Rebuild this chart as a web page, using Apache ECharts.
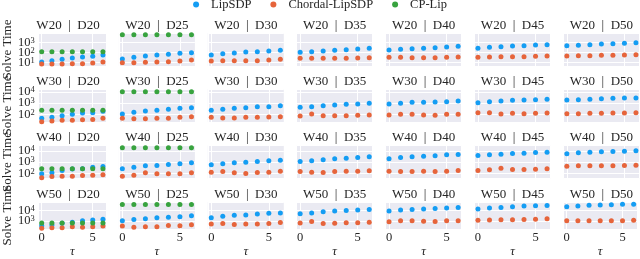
<!DOCTYPE html>
<html><head><meta charset="utf-8">
<script src="https://cdn.jsdelivr.net/npm/echarts@6/dist/echarts.min.js"></script>
<style>html,body{margin:0;padding:0;background:#fff}#c{width:640px;height:259px}</style>
</head><body><div id="c"></div>
<script>
// ---------- data ----------
const widths = ['W20', 'W30', 'W40', 'W50'];
const depths = ['D20', 'D25', 'D30', 'D35', 'D40', 'D45', 'D50'];
const tau = [0, 1, 2, 3, 4, 5, 6];
const methods = ['LipSDP', 'Chordal-LipSDP', 'CP-Lip'];
const xTickLabels = ['0', '5'];
const yTickLabelsByRow = [[1, 2, 3], [2, 3, 4], [2, 3, 4], [3, 4]];

// LipSDP solve times, one list of 7 (tau=0..6) per depth
const lipsdpW20 = [
  [11.7, 15.8, 21.9, 29.5, 37, 43.6, 59],
  [23, 35, 47, 59, 69, 87, 100],
  [59, 79, 93, 117, 126, 148, 174],
  [110, 126, 148, 174, 200, 234, 275],
  [186, 219, 251, 275, 316, 372, 437],
  [275, 347, 398, 468, 501, 589, 631],
  [501, 550, 631, 741, 794, 871, 1000]
];
const lipsdpW30 = [
  [44, 54, 74, 100, 132, 138, 186],
  [107, 151, 200, 229, 282, 347, 389],
  [229, 282, 347, 389, 479, 479, 589],
  [427, 479, 589, 676, 794, 832, 977],
  [832, 977, 1200, 1200, 1260, 1350, 1550],
  [1100, 1350, 1550, 1820, 1900, 2040, 2240],
  [1900, 2040, 2240, 2510, 2690, 2880, 2880]
];
const lipsdpW40 = [
  [89, 110, 174, 240, 251, 355, 398],
  [251, 355, 468, 501, 617, 708, 871],
  [575, 708, 871, 1000, 1150, 1320, 1480],
  [1150, 1320, 1620, 2000, 2240, 2630, 3020],
  [2000, 2630, 3020, 3390, 3720, 4570, 4900],
  [3980, 4570, 5130, 6030, 6310, 7410, 7760],
  [5620, 6920, 7760, 8510, 9120, 9550, 10470]
];
const lipsdpW50 = [
  [339, 407, 575, 741, 1000, 1200, 1440],
  [1000, 1350, 1620, 1950, 2190, 2450, 3160],
  [2040, 2820, 3390, 3720, 4470, 5370, 5750],
  [4900, 5750, 7410, 8710, 10000, 11200, 12600],
  [8710, 11200, 12600, 13500, 15100, 17400, 19100],
  [13500, 17400, 19100, 22900, 26300, 27500, 29500],
  [22900, 26300, 31600, 33100, 35500, 39800, 39800]
];

// Chordal-LipSDP solve times
const chordalW20 = [
  [7.4, 7.4, 7.4, 7.9, 7.9, 9.3, 11.7],
  [10, 10, 11, 11.7, 12.6, 14.8, 18.6],
  [14.8, 15.8, 15.8, 15.8, 15.8, 18.6, 21.9],
  [27.5, 27.5, 27.5, 27.5, 27.5, 29.5, 31.6],
  [35, 35, 32, 32, 32, 35, 37],
  [35, 37, 40, 40, 40, 44, 47],
  [47, 50, 50, 55, 55, 59, 63]
];
const chordalW30 = [
  [22, 25, 29, 29, 33, 35, 44],
  [44, 40, 40, 44, 44, 54, 60],
  [54, 47, 47, 54, 54, 57, 60],
  [71, 107, 74, 74, 74, 81, 87],
  [87, 100, 100, 87, 81, 100, 100],
  [138, 138, 107, 123, 112, 123, 132],
  [112, 112, 123, 123, 132, 132, 138]
];
const chordalW40 = [
  [40, 51, 55, 55, 63, 68, 74],
  [55, 68, 110, 89, 89, 89, 110],
  [126, 145, 110, 95, 117, 126, 155],
  [145, 126, 117, 145, 155, 155, 166],
  [155, 145, 145, 155, 145, 155, 178],
  [178, 204, 288, 219, 219, 234, 251],
  [437, 468, 468, 468, 468, 501, 537]
];
const chordalW50 = [
  [195, 224, 224, 269, 245, 269, 316],
  [316, 245, 269, 269, 355, 339, 427],
  [513, 550, 457, 513, 513, 550, 692],
  [617, 871, 550, 575, 661, 661, 741],
  [832, 1000, 1000, 933, 871, 1000, 1050],
  [1150, 1200, 1260, 1260, 1350, 1440, 1620],
  [1000, 1050, 1050, 1050, 1050, 1050, 1150]
];

// CP-Lip solve times (only D20 and D25)
const cplipW20 = [
  [125, 125, 125, 125, 125, 125, 125],
  [6300, 6300, 6300, 6300, 6300, 6300, 6300]
];
const cplipW30 = [
  [230, 230, 230, 230, 230, 230, 230],
  [10700, 10700, 10700, 10700, 10700, 10700, 10700]
];
const cplipW40 = [
  [251, 251, 251, 251, 251, 251, 251],
  [19500, 19500, 19500, 19500, 19500, 19500, 19500]
];
const cplipW50 = [
  [620, 620, 620, 620, 620, 620, 620],
  [37000, 37000, 37000, 37000, 37000, 37000, 37000]
];

// shared y-range per row (log axis)
const yMinByRow = [4.7, 20.4, 34, 162];
const yMaxByRow = [9300, 18600, 31000, 64600];
const xMin = -0.3, xMax = 6.3;

// ---------- layout / style ----------
const lipsdpRows = [lipsdpW20, lipsdpW30, lipsdpW40, lipsdpW50];
const chordalRows = [chordalW20, chordalW30, chordalW40, chordalW50];
const cplipRows = [cplipW20, cplipW30, cplipW40, cplipW50];
const colors = ['#149df3', '#e6643b', '#38a33f'];
const FONT = '"Liberation Serif", "DejaVu Serif", serif';
const TXT = '#262626';
const colLeft0 = 30, colStep = 88.9, panelW = 76;
const rowTops = [33, 89, 145.5, 202], panelH = 33;

const grids = [], xAxes = [], yAxes = [], series = [], titles = [];
for (let r = 0; r < widths.length; r++) {
  for (let c = 0; c < depths.length; c++) {
    const idx = r * depths.length + c;
    const left = colLeft0 + c * colStep;
    const top = rowTops[r];
    grids.push({ left: left, top: top, width: panelW, height: panelH, show: true,
      backgroundColor: '#eaeaf2', borderWidth: 0, containLabel: false });
    titles.push({ text: widths[r] + '  |  ' + depths[c], left: left + panelW / 2, top: top - 14,
      textAlign: 'center', padding: 0,
      textStyle: { fontSize: 13, fontWeight: 'normal', fontFamily: FONT, color: TXT } });
    const bottomRow = r === widths.length - 1;
    xAxes.push({ type: 'value', gridIndex: idx, min: xMin, max: xMax, splitNumber: 1,
      axisLine: { show: false }, axisTick: { show: false },
      splitLine: { show: true, lineStyle: { color: '#ffffff', width: 1 } },
      axisLabel: { show: bottomRow, margin: 2, fontSize: 12.5, fontFamily: FONT, color: TXT,
        showMinLabel: true, showMaxLabel: true,
        formatter: v => { const s = String(Math.round(v)); return (Math.abs(v - Math.round(v)) < 1e-9 && xTickLabels.includes(s)) ? s : ''; } },
      name: bottomRow ? 'τ' : '', nameLocation: 'middle', nameGap: 11,
      nameTextStyle: { fontSize: 13, fontFamily: FONT, color: TXT, fontStyle: 'italic' } });
    const exps = yTickLabelsByRow[r];
    yAxes.push({ type: 'log', logBase: 10, gridIndex: idx, min: yMinByRow[r], max: yMaxByRow[r],
      axisLine: { show: false }, axisTick: { show: false },
      splitLine: { show: true, lineStyle: { color: '#ffffff', width: 1 } },
      axisLabel: { show: c === 0, margin: 4, fontFamily: FONT, color: TXT,
        formatter: v => { const e = Math.log10(v); const k = Math.round(e);
          if (Math.abs(e - k) > 1e-6 || !exps.includes(k)) return '';
          return '{b|10}{s|' + k + '}'; },
        rich: { b: { fontSize: 12.5, fontFamily: FONT, color: TXT, lineHeight: 13 },
                s: { fontSize: 8.5, fontFamily: FONT, color: TXT, verticalAlign: 'top', lineHeight: 13 } } },
      name: c === 0 ? 'Solve Time' : '', nameLocation: 'middle', nameGap: 15,
      nameTextStyle: { fontSize: 13, fontFamily: FONT, color: TXT } });
    const mk = (name, vals, color) => ({ name: name, type: 'scatter', xAxisIndex: idx, yAxisIndex: idx,
      symbol: 'circle', symbolSize: 5, itemStyle: { color: color, opacity: 1 },
      data: tau.map((t, i) => [t, vals[i]]), clip: false });
    series.push(mk(methods[0], lipsdpRows[r][c], colors[0]));
    series.push(mk(methods[1], chordalRows[r][c], colors[1]));
    if (c < cplipRows[r].length) series.push(mk(methods[2], cplipRows[r][c], colors[2]));
  }
}

const chart = echarts.init(document.getElementById('c'), null, { renderer: 'canvas' });
chart.setOption({
  animation: false,
  backgroundColor: '#ffffff',
  title: titles,
  legend: { data: methods.map((m, i) => ({ name: m, icon: 'circle', itemStyle: { color: colors[i] } })),
    left: 'center', top: -2, padding: 0, itemWidth: 20, itemHeight: 6, itemGap: 19,
    textStyle: { fontSize: 12.5, fontFamily: FONT, color: TXT } },
  grid: grids, xAxis: xAxes, yAxis: yAxes, series: series
});
</script></body></html>
